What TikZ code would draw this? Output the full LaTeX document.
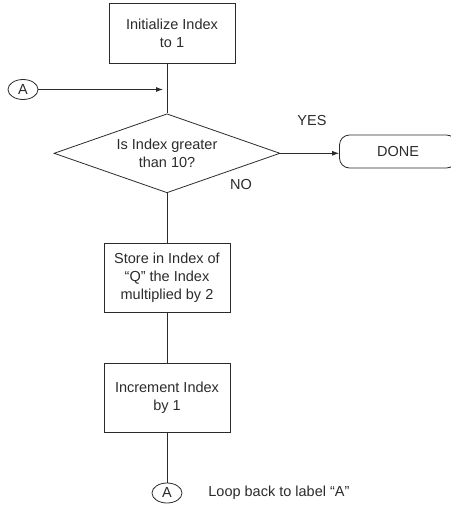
\documentclass[tikz,border=0pt]{standalone}
\usepackage{fontspec}
\setmainfont{Liberation Sans}
\usetikzlibrary{shapes.geometric,arrows.meta}
\definecolor{ink}{HTML}{2B2B2B}
\begin{document}
\begin{tikzpicture}[x=1pt,y=-1pt, line width=0.8pt, draw=ink, text=ink,
  font=\fontsize{14.5}{18}\selectfont,
  box/.style={draw, minimum width=126pt, align=center, inner sep=0pt},
  conn/.style={ellipse, draw, minimum width=30pt, minimum height=20pt, inner sep=0pt},
  lbl/.style={inner sep=0pt},
  arr/.style={-{Latex[length=7pt,width=5pt]}}]
\useasboundingbox (0,0) rectangle (450,506);
\node[box, minimum height=60pt] (init) at (172,33) {Initialize Index\\to 1};
\node[conn] (a1) at (23,89.5) {A};
\node[diamond, draw, aspect=2.86, minimum width=226pt, minimum height=79pt,
      inner sep=0pt, align=center] (dec) at (167,153.3) {Is Index greater\\than 10?};
\coordinate (aend) at (163,89.5);
\draw (init.south -| dec.north) -- (dec.north);
\draw[arr] (a1.east) -- (aend);
\node[draw, rounded corners=10pt, minimum width=117pt, minimum height=33pt] (done) at (398,151.5) {DONE};
\draw[arr] (dec.east) -- (dec.east -| done.west);
\node[lbl] (yes) at (312,120.7) {YES};
\node[lbl] (no) at (241,185) {NO};
\node[box, minimum height=69pt] (store) at (167,277.8) {Store in Index of\\“Q” the Index\\multiplied by 2};
\node[box, minimum height=69pt] (inc) at (167,397.8) {Increment Index\\by 1};
\node[conn] (a2) at (167,493) {A};
\node[lbl, anchor=west] (loop) at (208,493) {Loop back to label “A”};
\draw (dec.south) -- (store.north);
\draw (store.south) -- (inc.north);
\draw (inc.south) -- (a2.north);
\end{tikzpicture}
\end{document}
